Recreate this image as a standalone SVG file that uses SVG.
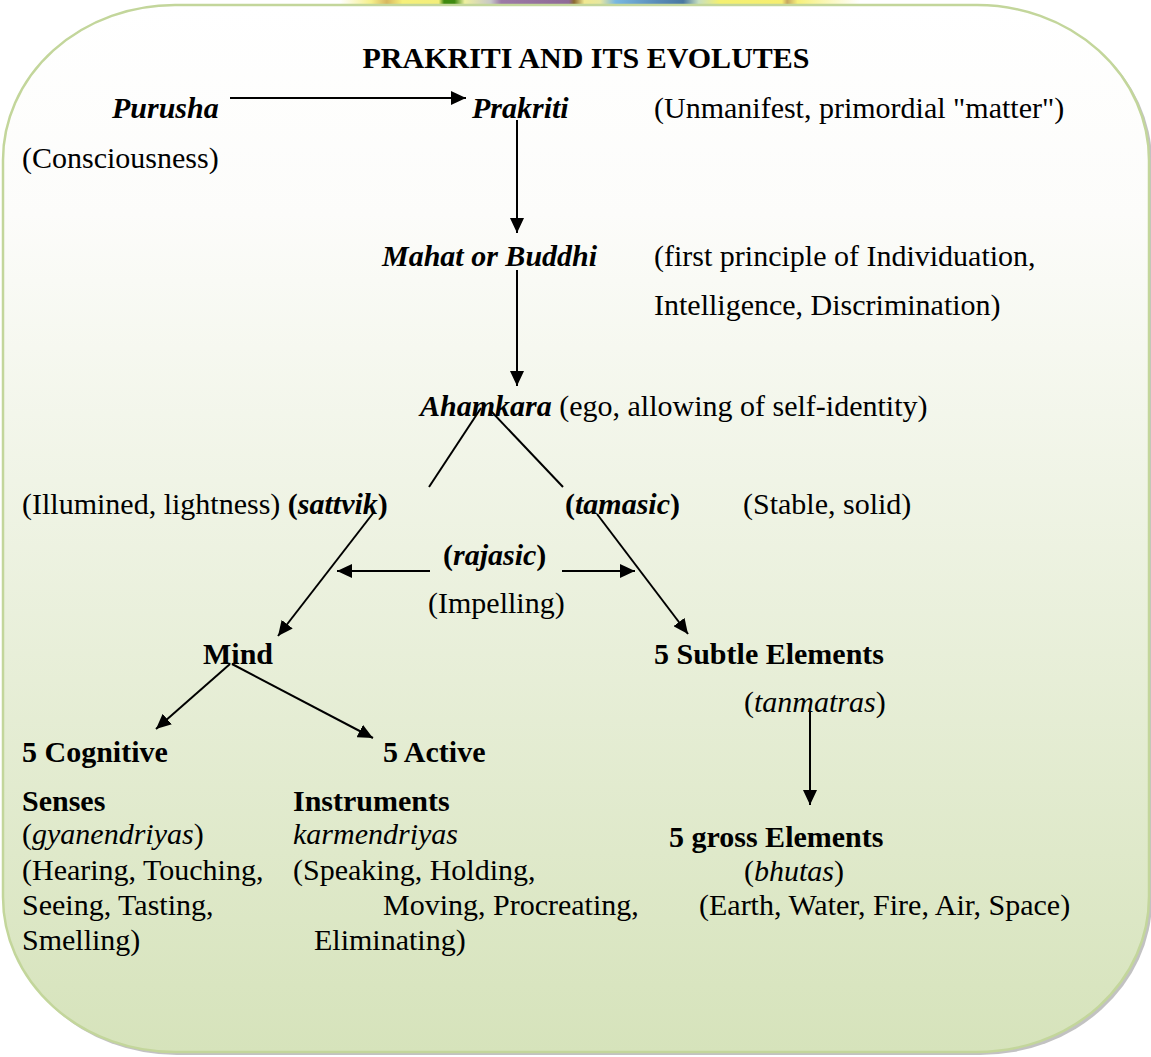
<svg xmlns="http://www.w3.org/2000/svg" width="1151" height="1057" viewBox="0 0 1151 1057">
<defs>
<linearGradient id="bg" x1="0" y1="0" x2="0" y2="1">
<stop offset="0" stop-color="#ffffff"/>
<stop offset="0.2" stop-color="#fcfcfa"/>
<stop offset="1" stop-color="#d6e3bb"/>
</linearGradient>
<linearGradient id="strip" x1="340" y1="0" x2="860" y2="0" gradientUnits="userSpaceOnUse">
<stop offset="0" stop-color="#ffffff"/>
<stop offset="0.06" stop-color="#f6f08a"/>
<stop offset="0.09" stop-color="#d8b860"/>
<stop offset="0.12" stop-color="#f6f07a"/>
<stop offset="0.19" stop-color="#f3ee7a"/>
<stop offset="0.2" stop-color="#3f8a10"/>
<stop offset="0.22" stop-color="#3f8a10"/>
<stop offset="0.24" stop-color="#eef0a0"/>
<stop offset="0.29" stop-color="#c8c8c8"/>
<stop offset="0.31" stop-color="#9c7aa6"/>
<stop offset="0.44" stop-color="#8e6a96"/>
<stop offset="0.45" stop-color="#8a6a30"/>
<stop offset="0.47" stop-color="#f0e890"/>
<stop offset="0.5" stop-color="#e8e8a0"/>
<stop offset="0.53" stop-color="#7ab8e0"/>
<stop offset="0.61" stop-color="#5a8cb8"/>
<stop offset="0.66" stop-color="#4a78a0"/>
<stop offset="0.69" stop-color="#c8e0c0"/>
<stop offset="0.73" stop-color="#f4f070"/>
<stop offset="0.85" stop-color="#f6ee70"/>
<stop offset="0.86" stop-color="#c8a860"/>
<stop offset="0.88" stop-color="#f6f07a"/>
<stop offset="1" stop-color="#ffffff"/>
</linearGradient>
<marker id="ah" markerUnits="userSpaceOnUse" markerWidth="16" markerHeight="14" refX="15" refY="7" orient="auto">
<path d="M0,0 L15,7 L0,14 z" fill="#000"/>
</marker>
</defs>
<style>
text{font-family:"Liberation Serif","Times New Roman",serif;font-size:30px;fill:#000}
.b{font-weight:bold}
.i{font-style:italic}
.bi{font-weight:bold;font-style:italic}
.c{stroke:#000;stroke-width:2;fill:none}
.a{marker-end:url(#ah)}
</style>
<rect x="0" y="0" width="1151" height="1057" fill="#ffffff"/>
<rect x="340" y="0" width="520" height="6" fill="url(#strip)"/>
<g id="background">
<rect x="5" y="7" width="1147" height="1048" rx="172" ry="155" fill="#9a9a9a" opacity="0.6"/>
<rect x="3" y="5" width="1146" height="1047" rx="172" ry="155" fill="url(#bg)" stroke="#c3d69b" stroke-width="2.5"/>
</g>
<g id="connectors">
<line class="c a" x1="230" y1="98" x2="466" y2="98"/>
<line class="c a" x1="517" y1="120" x2="517" y2="233"/>
<line class="c a" x1="517" y1="270" x2="517" y2="386"/>
<line class="c" x1="481" y1="408" x2="429" y2="487"/>
<line class="c" x1="490" y1="410" x2="563" y2="487"/>
<line class="c a" x1="374" y1="512" x2="278" y2="636"/>
<line class="c a" x1="597" y1="514" x2="688" y2="634"/>
<line class="c a" x1="430" y1="571" x2="337" y2="571"/>
<line class="c a" x1="562" y1="571" x2="635" y2="571"/>
<line class="c a" x1="230" y1="664" x2="156" y2="729"/>
<line class="c a" x1="232" y1="664" x2="373" y2="738"/>
<line class="c a" x1="810" y1="712" x2="810" y2="805"/>
</g>
<g id="title"><text class="b" x="586" y="68" text-anchor="middle">PRAKRITI AND ITS EVOLUTES</text></g>
<g id="purusha">
<text class="bi" x="112" y="118">Purusha</text>
<text x="22" y="168">(Consciousness)</text>
</g>
<g id="prakriti">
<text class="bi" x="472" y="118">Prakriti</text>
<text x="654" y="118">(Unmanifest, primordial "matter")</text>
</g>
<g id="mahat">
<text class="bi" x="382" y="266">Mahat or Buddhi</text>
<text x="654" y="266">(first principle of Individuation,</text>
<text x="654" y="315">Intelligence, Discrimination)</text>
</g>
<g id="ahamkara">
<text x="420" y="416"><tspan class="bi">Ahamkara</tspan> (ego, allowing of self-identity)</text>
</g>
<g id="sattvik">
<text x="22" y="514">(Illumined, lightness) <tspan class="b">(</tspan><tspan class="bi">sattvik</tspan><tspan class="b">)</tspan></text>
</g>
<g id="tamasic">
<text x="565" y="514"><tspan class="b">(</tspan><tspan class="bi">tamasic</tspan><tspan class="b">)</tspan></text>
<text x="743" y="514">(Stable, solid)</text>
</g>
<g id="rajasic">
<text x="443" y="565"><tspan class="b">(</tspan><tspan class="bi">rajasic</tspan><tspan class="b">)</tspan></text>
<text x="428" y="613">(Impelling)</text>
</g>
<g id="mind"><text class="b" x="203" y="664">Mind</text></g>
<g id="subtle">
<text class="b" x="654" y="664">5 Subtle Elements</text>
<text x="744" y="712">(<tspan class="i">tanmatras</tspan>)</text>
</g>
<g id="cognitive">
<text class="b" x="22" y="762">5 Cognitive</text>
<text class="b" x="22" y="811">Senses</text>
<text x="22" y="844">(<tspan class="i">gyanendriyas</tspan>)</text>
<text x="22" y="880">(Hearing, Touching,</text>
<text x="22" y="915">Seeing, Tasting,</text>
<text x="22" y="950">Smelling)</text>
</g>
<g id="active">
<text class="b" x="383" y="762">5 Active</text>
<text class="b" x="293" y="811">Instruments</text>
<text class="i" x="293" y="844">karmendriyas</text>
<text x="293" y="880">(Speaking, Holding,</text>
<text x="383" y="915">Moving, Procreating,</text>
<text x="314" y="950">Eliminating)</text>
</g>
<g id="gross">
<text class="b" x="669" y="847">5 gross Elements</text>
<text x="744" y="881">(<tspan class="i">bhutas</tspan>)</text>
<text x="699" y="915">(Earth, Water, Fire, Air, Space)</text>
</g>
</svg>
